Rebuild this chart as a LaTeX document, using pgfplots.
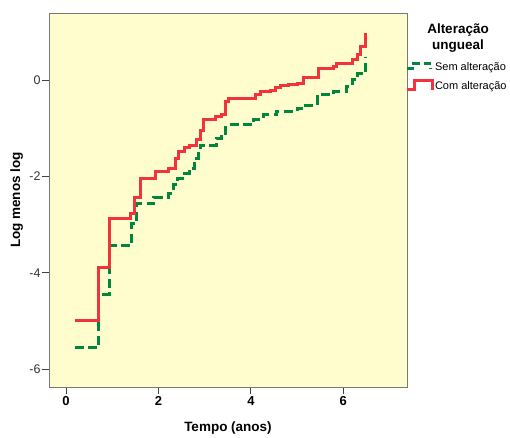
\documentclass[border=0pt]{standalone}
\usepackage{fontspec}
\setmainfont{Liberation Sans}
\usepackage{pgfplots}
\pgfplotsset{compat=1.18}

\definecolor{bgyellow}{RGB}{255,252,206}
\definecolor{semgreen}{RGB}{0,135,62}
\definecolor{comred}{RGB}{240,52,60}
\definecolor{framegray}{RGB}{120,120,120}

% step-shaped legend symbols, as in the original
\pgfplotsset{
  semleg/.style={legend image code/.code={
    \draw[semgreen, line width=3pt, dash pattern=on 7pt off 4pt]
      (0pt,-1.5pt) -- (7pt,-1.5pt) -- (7pt,3.5pt) -- (24pt,3.5pt) -- (24pt,-1.5pt);}},
  comleg/.style={legend image code/.code={
    \draw[comred, line width=3pt]
      (0pt,-2.5pt) -- (8pt,-2.5pt) -- (8pt,7pt) -- (26pt,7pt) -- (26pt,-2.5pt);}},
}

% log minus log curves (time in years)
\pgfplotstableread{
t     v
0.19  -5.56
0.70  -4.45
0.93  -3.44
1.42  -2.97
1.53  -2.57
1.90  -2.43
2.21  -2.35
2.32  -2.17
2.42  -2.04
2.57  -1.95
2.68  -1.83
2.79  -1.62
2.86  -1.41
2.90  -1.35
3.26  -1.21
3.37  -1.10
3.46  -0.93
4.06  -0.81
4.27  -0.72
4.56  -0.65
5.00  -0.59
5.10  -0.52
5.45  -0.34
5.49  -0.31
5.79  -0.24
6.08  -0.14
6.19   0.00
6.30   0.14
6.48   0.48
}\semalt

\pgfplotstableread{
t     v
0.19  -5.00
0.70  -3.90
0.93  -2.88
1.40  -2.76
1.49  -2.43
1.60  -2.04
1.93  -1.90
2.21  -1.83
2.36  -1.62
2.43  -1.48
2.57  -1.41
2.68  -1.35
2.83  -1.24
2.90  -1.04
2.97  -0.83
3.23  -0.76
3.37  -0.72
3.46  -0.45
3.51  -0.38
4.09  -0.31
4.20  -0.24
4.42  -0.21
4.53  -0.16
4.64  -0.12
4.82  -0.09
5.00  -0.07
5.13   0.05
5.47   0.24
5.79   0.29
5.86   0.35
6.19   0.43
6.30   0.52
6.37   0.69
6.48   0.98
}\comalt

\begin{document}
\begin{tikzpicture}
\useasboundingbox (-49pt,-50pt) rectangle (461pt,387pt);
\begin{axis}[
    at={(0pt,0pt)}, anchor=south west,
    scale only axis,
    width=358pt, height=374pt,
    xmin=-0.37, xmax=7.38,
    ymin=-6.37, ymax=1.39,
    axis background/.style={fill=bgyellow},
    axis line style={draw=framegray, line width=0.9pt},
    xtick={0,2,4,6}, xticklabels={0,2,4,6},
    ytick={-6,-4,-2,0}, yticklabels={-6,-4,-2,0},
    xtick pos=bottom, ytick pos=left,
    tick align=outside,
    major tick length=7pt,
    tick style={draw=black!75, line width=0.8pt},
    xticklabel style={font=\bfseries\fontsize{13}{15}\selectfont, yshift=1pt},
    yticklabel style={font=\fontsize{12.5}{15}\selectfont, text=black!80, xshift=2pt},
    xlabel={Tempo (anos)},
    ylabel={Log menos log},
    xlabel style={font=\bfseries\fontsize{13.5}{16}\selectfont, at={(axis description cs:0.5,-0.11)}, anchor=center},
    ylabel style={font=\bfseries\fontsize{13.5}{16}\selectfont, at={(axis description cs:-0.09,0.5)}, anchor=center},
    legend style={at={(axis description cs:0.994,0.872)}, anchor=north west,
        draw=none, fill=none, inner sep=0pt, row sep=5pt,
        nodes={inner sep=1pt, font=\fontsize{11}{13}\selectfont, text height=8pt, text depth=2.5pt}},
    legend cell align=left,
    clip=false,
]
\addplot[const plot, semgreen, line width=3pt, dash pattern=on 9pt off 4.5pt, semleg]
    table[x=t, y=v] {\semalt};
\addlegendentry{Sem alteração}
\addplot[const plot, comred, line width=3pt, comleg]
    table[x=t, y=v] {\comalt};
\addlegendentry{Com alteração}
\node[font=\bfseries\fontsize{13.5}{16}\selectfont, align=center]
    at (axis description cs:1.1425,0.933) {Alteração\\ungueal};
\end{axis}
\end{tikzpicture}
\end{document}
